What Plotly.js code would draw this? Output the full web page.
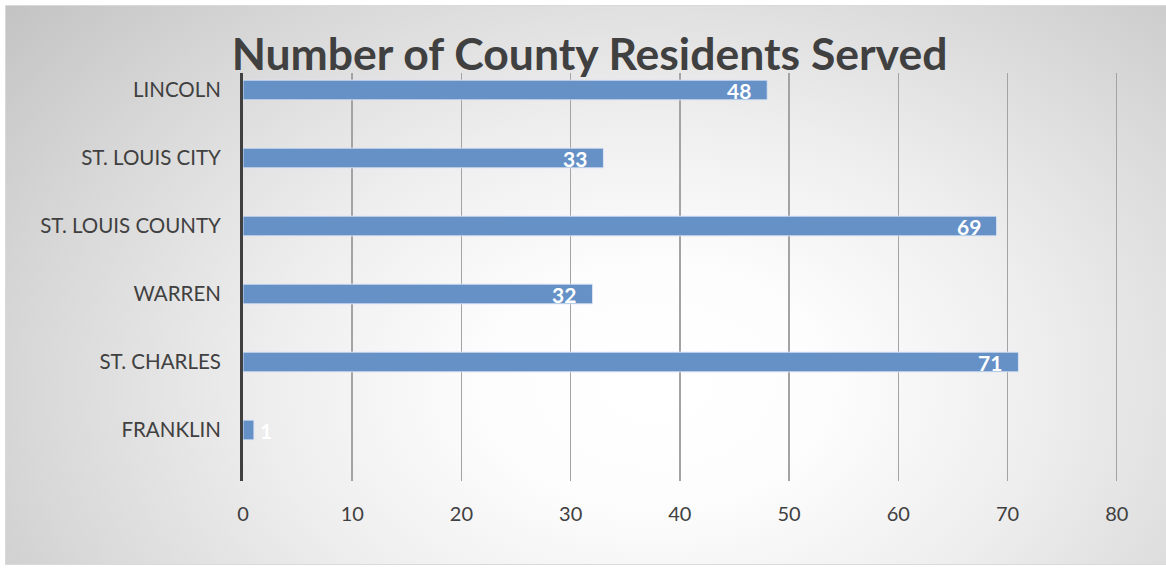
<!DOCTYPE html>
<html>
<head>
<meta charset="utf-8">
<script src="https://cdn.plot.ly/plotly-3.0.1.min.js"></script>
<style>
  html, body { margin: 0; padding: 0; background: #ffffff; }
  #wrap { position: relative; width: 1166px; height: 569px; overflow: hidden; }
  #bg {
    position: absolute; left: 5px; top: 5px; width: 1161px; height: 560px;
    box-sizing: border-box; border: 1px solid #d9d9d9; border-right: none;
    background: radial-gradient(ellipse 72% 105% at 56% 68%, #ffffff 0%, #fdfdfd 20%, #eeeeee 46%, #d8d8d8 75%, #c4c4c4 100%);
  }
  #chart { position: absolute; left: 0; top: 0; width: 1166px; height: 569px; }
</style>
</head>
<body>
<div id="wrap">
  <div id="bg"></div>
  <div id="chart"></div>
</div>
<script>
const categories = ["FRANKLIN", "ST. CHARLES", "WARREN", "ST. LOUIS COUNTY", "ST. LOUIS CITY", "LINCOLN"];
const residents = [1, 71, 32, 69, 33, 48];
const xTicks = [0, 10, 20, 30, 40, 50, 60, 70, 80];
const chartTitle = "Number of County Residents Served";

const font = "Lato, 'Open Sans', 'DejaVu Sans', sans-serif";

const trace = {
  type: "bar",
  orientation: "h",
  y: categories,
  x: residents,
  width: 0.29,
  marker: { color: "#6591c7", line: { color: "rgba(220,230,245,0.9)", width: 1 } },
  hoverinfo: "x+y"
};

// value labels: inside the bar end when they fit, just outside otherwise
const labelAnnotations = residents.map((v, i) => {
  const fits = v >= 5;
  return {
    x: v, y: categories[i], xref: "x", yref: "y",
    text: "<b>" + v + "</b>",
    showarrow: false,
    xanchor: fits ? "right" : "left",
    xshift: fits ? -14 : 4,
    yanchor: "middle",
    font: { family: font, size: 21, color: "#ffffff" }
  };
});

const layout = {
  width: 1166, height: 569,
  margin: { l: 243, r: 46, t: 73, b: 88 },
  paper_bgcolor: "rgba(0,0,0,0)",
  plot_bgcolor: "rgba(0,0,0,0)",
  showlegend: false,
  title: {
    text: "<b>" + chartTitle + "</b>",
    font: { family: font, size: 44.5, color: "#404040" },
    x: 0.5056, xanchor: "center", xref: "container",
    y: 0.905, yanchor: "middle", yref: "container"
  },
  annotations: labelAnnotations,
  xaxis: {
    range: [0, 80.3],
    tickvals: xTicks,
    ticktext: xTicks.map(String),
    showgrid: true, gridcolor: "#a3a3a3", gridwidth: 1.5,
    zeroline: false, showline: false,
    ticks: "outside", ticklen: 15, tickcolor: "rgba(0,0,0,0)",
    tickfont: { family: font, size: 20, color: "#404040" },
    fixedrange: true
  },
  yaxis: {
    type: "category",
    categoryorder: "array", categoryarray: categories,
    range: [-0.75, 5.25],
    showgrid: false, zeroline: false,
    showline: true, linecolor: "#404040", linewidth: 3,
    ticks: "outside", ticklen: 15, tickcolor: "rgba(0,0,0,0)",
    tickfont: { family: font, size: 20.5, color: "#404040" },
    fixedrange: true
  }
};

Plotly.newPlot("chart", [trace], layout, { displayModeBar: false, staticPlot: true });
</script>
</body>
</html>
